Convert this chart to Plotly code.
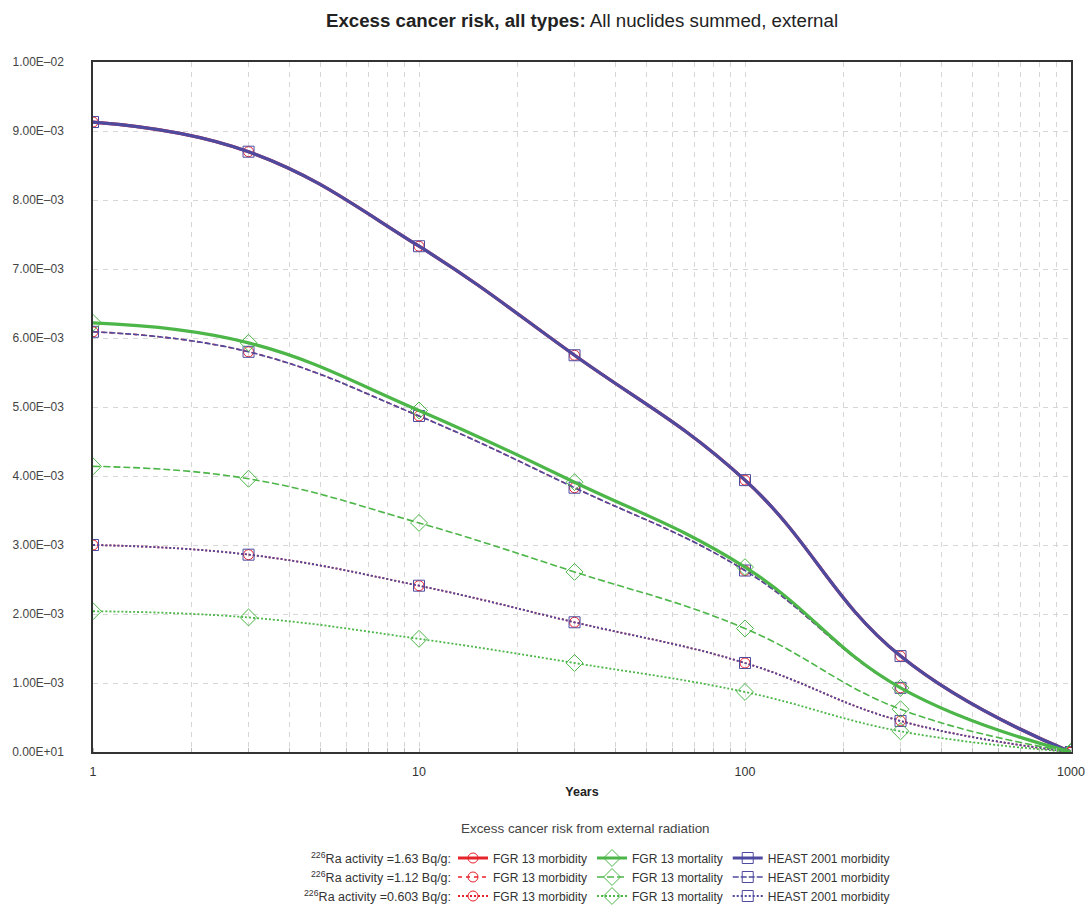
import plotly.graph_objects as go

years = [1, 3, 10, 30, 100, 300, 1000]

# HEAST 2001 morbidity (FGR 13 morbidity coincides)
heast_163 = [9.13e-3, 8.70e-3, 7.33e-3, 5.75e-3, 3.94e-3, 1.39e-3, 0.0]
heast_112 = [6.09e-3, 5.80e-3, 4.87e-3, 3.83e-3, 2.63e-3, 0.93e-3, 0.0]
heast_0603 = [3.00e-3, 2.86e-3, 2.41e-3, 1.88e-3, 1.29e-3, 0.45e-3, 0.0]

fgr_morb_163 = [9.13e-3, 8.70e-3, 7.33e-3, 5.75e-3, 3.94e-3, 1.39e-3, 0.0]
fgr_morb_112 = [6.09e-3, 5.80e-3, 4.87e-3, 3.83e-3, 2.63e-3, 0.93e-3, 0.0]
fgr_morb_0603 = [3.00e-3, 2.86e-3, 2.41e-3, 1.88e-3, 1.29e-3, 0.45e-3, 0.0]

fgr_mort_163 = [6.22e-3, 5.93e-3, 4.95e-3, 3.91e-3, 2.68e-3, 0.93e-3, 0.0]
fgr_mort_112 = [4.14e-3, 3.96e-3, 3.32e-3, 2.61e-3, 1.79e-3, 0.62e-3, 0.0]
fgr_mort_0603 = [2.04e-3, 1.95e-3, 1.64e-3, 1.29e-3, 0.87e-3, 0.30e-3, 0.0]

y_tickvals = [0, 1e-3, 2e-3, 3e-3, 4e-3, 5e-3, 6e-3, 7e-3, 8e-3, 9e-3, 1e-2]
y_ticktext = ["0.00E+01", "1.00E\u201303", "2.00E\u201303", "3.00E\u201303", "4.00E\u201303",
              "5.00E\u201303", "6.00E\u201303", "7.00E\u201303", "8.00E\u201303", "9.00E\u201303",
              "1.00E\u201302"]
x_tickvals = [1, 10, 100, 1000]
x_ticktext = ["1", "10", "100", "1000"]

activities = ["1.63", "1.12", "0.603"]

RED = "#e5232a"
GREEN = "#4cb648"
BLUE = "#4e4a9f"
FONT = "Liberation Sans, Arial, sans-serif"

styles = [
    dict(width=3.2, red_dash="solid", blue_dash="solid", green_dash="solid"),
    dict(width=1.6, red_dash="4px,4px", blue_dash="6px,2px", green_dash="7px,3px"),
    dict(width=1.8, red_dash="2px,2px", blue_dash="2px,2px", green_dash="2px,2px"),
]

morb = [fgr_morb_163, fgr_morb_112, fgr_morb_0603]
mort = [fgr_mort_163, fgr_mort_112, fgr_mort_0603]
heast = [heast_163, heast_112, heast_0603]

fig = go.Figure()
legends = ["legend", "legend2", "legend3"]

for i in range(3):
    st = styles[i]
    fig.add_trace(go.Scatter(
        x=years, y=morb[i], mode="lines+markers", name="FGR 13 morbidity",
        line=dict(color=RED, width=st["width"], dash=st["red_dash"], shape="spline", smoothing=1.2),
        marker=dict(symbol="circle-open", size=10, color=RED, line=dict(width=1)),
        legend=legends[i], legendrank=1))
for i in range(3):
    st = styles[i]
    fig.add_trace(go.Scatter(
        x=years, y=heast[i], mode="lines+markers", name="HEAST 2001 morbidity",
        line=dict(color=BLUE, width=st["width"], dash=st["blue_dash"], shape="spline", smoothing=1.2),
        marker=dict(symbol="square-open", size=11, color=BLUE, line=dict(width=1)),
        legend=legends[i], legendrank=3))
for i in range(3):
    st = styles[i]
    fig.add_trace(go.Scatter(
        x=years, y=mort[i], mode="lines+markers", name="FGR 13 mortality",
        line=dict(color=GREEN, width=st["width"], dash=st["green_dash"], shape="spline", smoothing=1.2),
        marker=dict(symbol="diamond-open", size=13, color=GREEN, line=dict(width=1)),
        legend=legends[i], legendrank=2))

PLOT_L, PLOT_R, PLOT_T, PLOT_B = 93, 1071, 62, 752
legend_px = [858, 877, 896]
layout_legends = {}
for i, name in enumerate(legends):
    layout_legends[name] = dict(
        orientation="h", xref="container", yref="container",
        xanchor="left", yanchor="middle", x=453 / 1089, y=1 - legend_px[i] / 911,
        font=dict(family=FONT, size=12, color="#333"),
        bgcolor="rgba(0,0,0,0)", itemclick=False, itemdoubleclick=False,
        traceorder="normal", itemwidth=30,
    )

annotations = [dict(text="Excess cancer risk from external radiation", xref="paper", yref="paper",
                    x=(585 - PLOT_L) / (PLOT_R - PLOT_L), y=(PLOT_B - 828) / (PLOT_B - PLOT_T),
                    showarrow=False, yanchor="middle", xanchor="center",
                    font=dict(family=FONT, size=13.4, color="#444"))]
for i in range(3):
    annotations.append(dict(
        text="<sup>226</sup>Ra activity =" + activities[i] + " Bq/g:",
        xref="paper", yref="paper",
        x=(453 - PLOT_L) / (PLOT_R - PLOT_L), y=(PLOT_B - legend_px[i]) / (PLOT_B - PLOT_T),
        xanchor="right", yanchor="middle", showarrow=False,
        font=dict(family=FONT, size=12.5, color="#333")))

fig.update_layout(
    width=1089, height=911,
    margin=dict(l=PLOT_L, r=1089 - PLOT_R, t=PLOT_T, b=911 - PLOT_B, autoexpand=False),
    paper_bgcolor="white", plot_bgcolor="white",
    font=dict(family=FONT, color="#333"),
    title=dict(text="<b>Excess cancer risk, all types:</b> All nuclides summed, external",
               x=(PLOT_L + PLOT_R) / 2 / 1089, xanchor="center", y=1 - 20 / 911, yanchor="middle",
               font=dict(family=FONT, size=18.7, color="#222")),
    showlegend=True,
    **layout_legends,
    annotations=annotations,
)

fig.update_xaxes(
    type="log", range=[0, 3], tickvals=x_tickvals, ticktext=x_ticktext,
    showline=True, linecolor="#333", linewidth=1.5, mirror=True,
    showgrid=True, gridcolor="#d6d6d6", griddash="5px,5px", gridwidth=1,
    ticks="", ticklabelstandoff=7, tickfont=dict(family=FONT, size=12.5, color="#333"),
    minor=dict(dtick="D1", showgrid=True, gridcolor="#d6d6d6", griddash="5px,5px",
               ticks="inside", ticklen=4, tickcolor="#bbb"),
    title=dict(text="<b>Years</b>", font=dict(family=FONT, size=12.5, color="#222"), standoff=9),
    zeroline=False,
)
fig.update_yaxes(
    range=[0, 0.01], tickvals=y_tickvals, ticktext=y_ticktext,
    showline=True, linecolor="#333", linewidth=1.5, mirror=True,
    showgrid=True, gridcolor="#d6d6d6", griddash="5px,5px", gridwidth=1,
    ticks="", ticklabelstandoff=25, tickfont=dict(family=FONT, size=12, color="#444"),
    zeroline=False,
)

fig.write_html("out.html")
